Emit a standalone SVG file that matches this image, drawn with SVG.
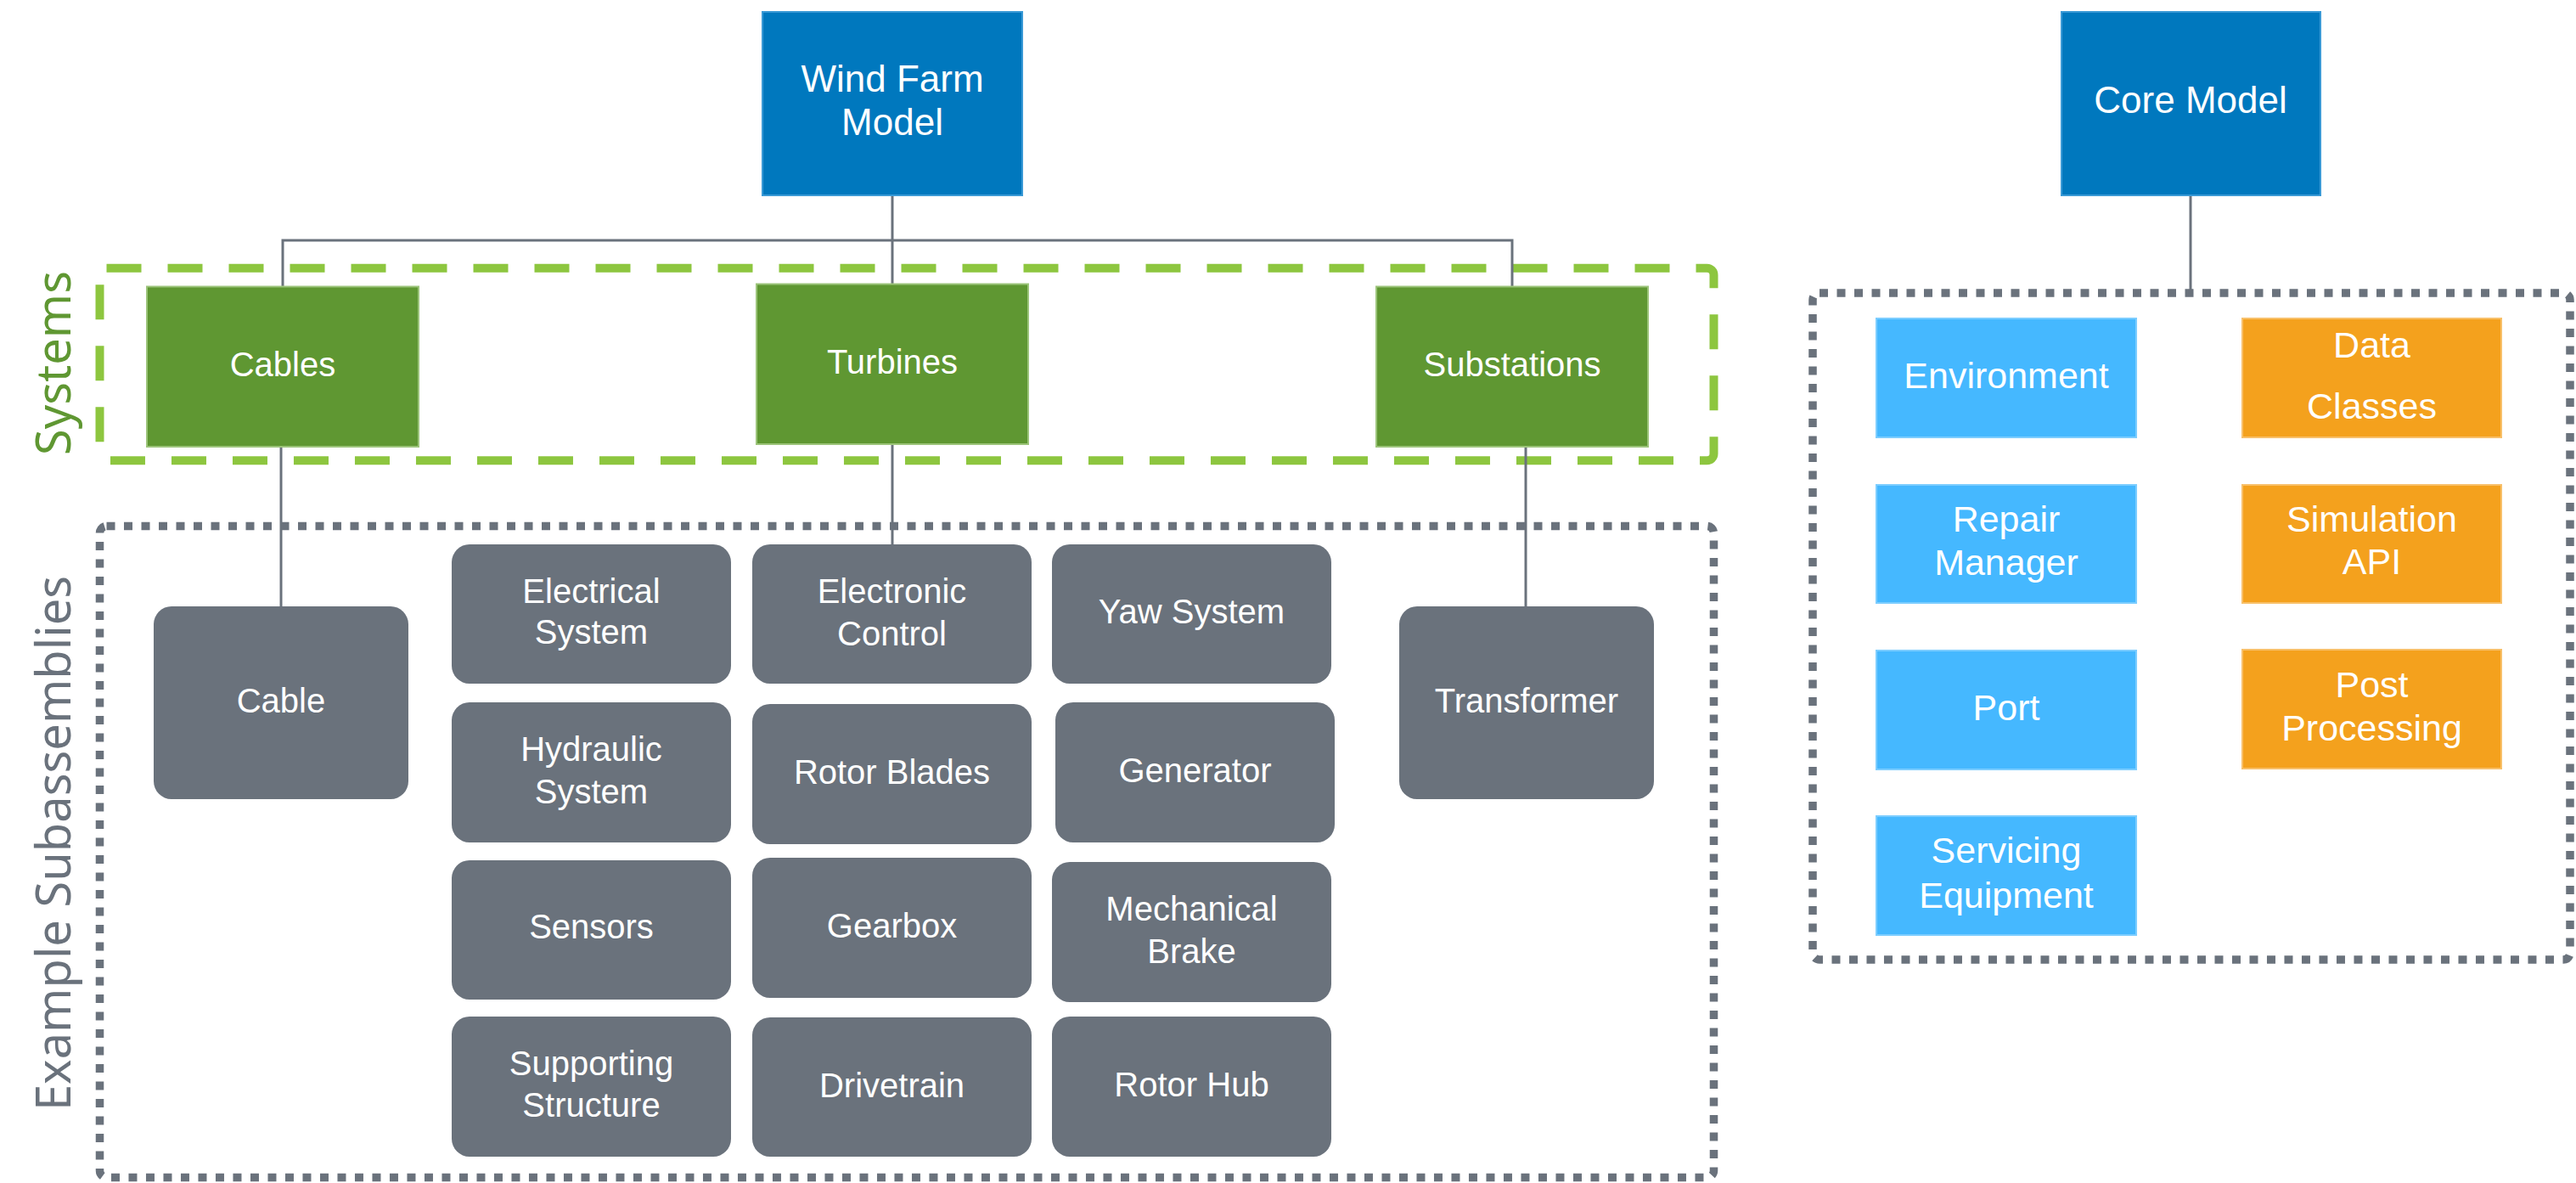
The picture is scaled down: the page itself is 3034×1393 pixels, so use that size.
<svg xmlns="http://www.w3.org/2000/svg" width="3034" height="1393" viewBox="0 0 3034 1393">
<style>
text{font-family:"Liberation Sans",Arial,sans-serif;fill:#ffffff;text-anchor:middle}
.top{fill:#0078BE;stroke:#3A9AD6;stroke-width:2}
.sys{fill:#5F9732;stroke:#9CC47A;stroke-width:2}
.sub{fill:#6A727C}
.lb{fill:#45B8FF;stroke:#7CCDFF;stroke-width:2}
.or{fill:#F4A11D;stroke:#F8C06A;stroke-width:2}
.t44{font-size:44px}
.t40{font-size:40px}
.t42{font-size:43px}
.conn{stroke:#6A727C;stroke-width:3;fill:none}
.gdash{fill:none;stroke:#8DC63F;stroke-width:10;stroke-dasharray:41 31}
.gdot{fill:none;stroke:#6A727C;stroke-width:9.5;stroke-dasharray:10 10.5}
.side{font-family:"Noto Sans","Open Sans",sans-serif;font-size:56px;text-anchor:middle}
</style>

<g id="frames">
<rect class="gdash" x="117.5" y="315.7" width="1901" height="226.5" rx="8"/>
<rect class="gdot" x="117.5" y="619.5" width="1901" height="767" rx="8"/>
<rect class="gdot" x="2135" y="345" width="892" height="785" rx="8"/>
</g>

<g id="labels">
<text class="side" transform="translate(83,427.5) rotate(-90)" style="fill:#5F9732">Systems</text>
<text class="side" transform="translate(83,993) rotate(-90)" style="fill:#6A727C">Example Subassemblies</text>
</g>

<g id="connectors">
<path class="conn" d="M1051 230 V334"/>
<path class="conn" d="M333 337 V283 H1781 V337"/>
<path class="conn" d="M331 526 V714"/>
<path class="conn" d="M1051 523 V641"/>
<path class="conn" d="M1797 526 V714"/>
<path class="conn" d="M2580 230 V345"/>
</g>

<g id="wind-farm-model"><rect class="top" x="898" y="14" width="306" height="216"/>
<text class="t44" x="1051" y="108">Wind Farm</text><text class="t44" x="1051" y="159">Model</text></g>
<g id="core-model"><rect class="top" x="2428" y="14" width="305" height="216"/>
<text class="t44" x="2580" y="133">Core Model</text></g>

<g id="cables"><rect class="sys" x="173" y="337.5" width="320" height="188.5"/><text class="t40" x="333" y="443">Cables</text></g>
<g id="turbines"><rect class="sys" x="891" y="334.5" width="320" height="188.5"/><text class="t40" x="1051" y="440">Turbines</text></g>
<g id="substations"><rect class="sys" x="1621" y="337.5" width="320" height="188.5"/><text class="t40" x="1781" y="443">Substations</text></g>

<g id="cable"><rect class="sub" x="181" y="714" width="300" height="227" rx="21"/><text class="t40" x="331" y="839">Cable</text></g>
<g id="transformer"><rect class="sub" x="1648" y="714" width="300" height="227" rx="21"/><text class="t40" x="1798" y="839">Transformer</text></g>

<g id="electrical-system"><rect class="sub" x="532" y="641" width="329" height="164" rx="21"/><text class="t40" x="696.5" y="710">Electrical</text><text class="t40" x="696.5" y="758">System</text></g>
<g id="hydraulic-system"><rect class="sub" x="532" y="827" width="329" height="165" rx="21"/><text class="t40" x="696.5" y="896">Hydraulic</text><text class="t40" x="696.5" y="946">System</text></g>
<g id="sensors"><rect class="sub" x="532" y="1013" width="329" height="164" rx="21"/><text class="t40" x="696.5" y="1105">Sensors</text></g>
<g id="supporting-structure"><rect class="sub" x="532" y="1197" width="329" height="165" rx="21"/><text class="t40" x="696.5" y="1266">Supporting</text><text class="t40" x="696.5" y="1315">Structure</text></g>

<g id="electronic-control"><rect class="sub" x="886" y="641" width="329" height="164" rx="21"/><text class="t40" x="1050.5" y="710">Electronic</text><text class="t40" x="1050.5" y="760">Control</text></g>
<g id="rotor-blades"><rect class="sub" x="886" y="829" width="329" height="165" rx="21"/><text class="t40" x="1050.5" y="923">Rotor Blades</text></g>
<g id="gearbox"><rect class="sub" x="886" y="1010" width="329" height="165" rx="21"/><text class="t40" x="1050.5" y="1104">Gearbox</text></g>
<g id="drivetrain"><rect class="sub" x="886" y="1198" width="329" height="164" rx="21"/><text class="t40" x="1050.5" y="1292">Drivetrain</text></g>

<g id="yaw-system"><rect class="sub" x="1239" y="641" width="329" height="164" rx="21"/><text class="t40" x="1403.5" y="734">Yaw System</text></g>
<g id="generator"><rect class="sub" x="1243" y="827" width="329" height="165" rx="21"/><text class="t40" x="1407.5" y="921">Generator</text></g>
<g id="mechanical-brake"><rect class="sub" x="1239" y="1015" width="329" height="165" rx="21"/><text class="t40" x="1403.5" y="1084">Mechanical</text><text class="t40" x="1403.5" y="1134">Brake</text></g>
<g id="rotor-hub"><rect class="sub" x="1239" y="1197" width="329" height="165" rx="21"/><text class="t40" x="1403.5" y="1291">Rotor Hub</text></g>

<g id="environment"><rect class="lb" x="2210" y="375" width="306" height="140"/><text class="t42" x="2363" y="457">Environment</text></g>
<g id="repair-manager"><rect class="lb" x="2210" y="571" width="306" height="139"/><text class="t42" x="2363" y="626">Repair</text><text class="t42" x="2363" y="677">Manager</text></g>
<g id="port"><rect class="lb" x="2210" y="766" width="306" height="140"/><text class="t42" x="2363" y="848">Port</text></g>
<g id="servicing-equipment"><rect class="lb" x="2210" y="961" width="306" height="140"/><text class="t42" x="2363" y="1016">Servicing</text><text class="t42" x="2363" y="1069">Equipment</text></g>

<g id="data-classes"><rect class="or" x="2641" y="375" width="305" height="140"/><text class="t42" x="2793.5" y="421">Data</text><text class="t42" x="2793.5" y="493">Classes</text></g>
<g id="simulation-api"><rect class="or" x="2641" y="571" width="305" height="139"/><text class="t42" x="2793.5" y="626">Simulation</text><text class="t42" x="2793.5" y="676">API</text></g>
<g id="post-processing"><rect class="or" x="2641" y="765" width="305" height="140"/><text class="t42" x="2793.5" y="821">Post</text><text class="t42" x="2793.5" y="872">Processing</text></g>
</svg>
